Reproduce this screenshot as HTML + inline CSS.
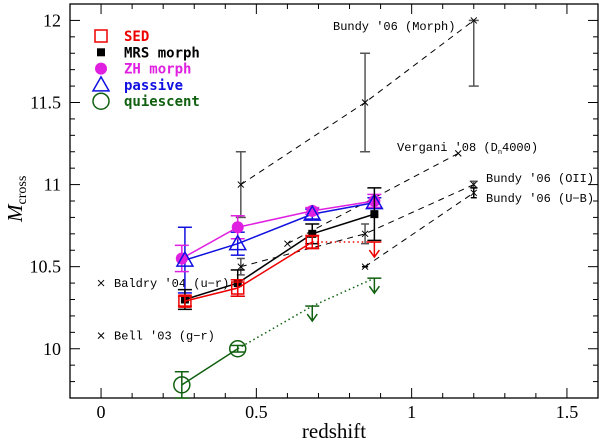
<!DOCTYPE html>
<html><head><meta charset="utf-8"><style>
body{margin:0;background:#fff}
svg{display:block}
text{font-family:"Liberation Serif",serif}
.lab{font-family:"Liberation Mono",monospace;font-size:12px}
.leg{font-family:"DejaVu Sans Mono","Liberation Mono",monospace;font-size:14px;font-weight:bold}
</style></head><body>
<svg id="c" width="600" height="441" xmlns="http://www.w3.org/2000/svg">
<g id="g"></g>
</svg>
<script>
const xTicks=[0,0.5,1,1.5];
const xTickLabels=["0","0.5","1","1.5"];
const yTicks=[10,10.5,11,11.5,12];
const yTickLabels=["10","10.5","11","11.5","12"];
const sedZ=[0.27,0.44,0.68];const sedM=[10.29,10.37,10.65];const sedE=[0.03,0.05,0.04];
const sedLimZ=[0.88];const sedLimM=[10.65];
const mrsZ=[0.27,0.44,0.68,0.88];const mrsM=[10.30,10.40,10.70,10.82];const mrsE=[0.06,0.08,0.06,0.16];
const zhZ=[0.26,0.44,0.68,0.88];const zhM=[10.55,10.74,10.84,10.90];const zhE=[0.08,0.07,0.02,0.04];
const pasZ=[0.27,0.44,0.68,0.88];const pasM=[10.54,10.64,10.82,10.89];const pasE=[0.2,0.07,0.03,0.03];
const quiZ=[0.26,0.44];const quiM=[9.78,10.00];const quiE=[0.08,0.02];
const quiLimZ=[0.68,0.88];const quiLimM=[10.26,10.43];
const morphZ=[0.45,0.85,1.2];const morphM=[11.0,11.5,12.0];const morphE=[0.2,0.3,0.4];
const oiiZ=[0.45,0.85,1.2];const oiiM=[10.5,10.7,11.0];const oiiE=[0.05,0.06,0.02];
const ubZ=[0.85,1.2];const ubM=[10.5,10.95];const ubE=[0,0.03];
const verZ=[0.6,1.15];const verM=[10.64,11.19];
const localZ=[0,0];const localM=[10.4,10.08];const localNames=["Baldry '04 (u\u2212r)","Bell '03 (g\u2212r)"];

const L=70,R=598,T=4,B=398,X0=-0.1,X1=1.6,Y0=9.7,Y1=12.1;
const sx=z=>L+(z-X0)/(X1-X0)*(R-L);
const sy=v=>B-(v-Y0)/(Y1-Y0)*(B-T);
const NS="http://www.w3.org/2000/svg";const g=document.getElementById('g');
function mk(t,a,txt){const e=document.createElementNS(NS,t);for(const k in a)e.setAttribute(k,a[k]);if(txt!==undefined)e.textContent=txt;g.appendChild(e);return e;}
let e=mk('rect',{x:L,y:T,width:R-L,height:B-T,fill:'none',stroke:'#000','stroke-width':1.3});

for(let i=-1;i<=16;i++){const z=i/10,x=sx(z),maj=i%5===0,l=maj?10:5;
 mk('line',{x1:x,x2:x,y1:B,y2:B-l,stroke:'#000'});mk('line',{x1:x,x2:x,y1:T,y2:T+l,stroke:'#000'});}
for(let i=97;i<=121;i++){const v=i/10,y=sy(v),maj=i%5===0,l=maj?10:5;
 mk('line',{x1:L,x2:L+l,y1:y,y2:y,stroke:'#000'});mk('line',{x1:R,x2:R-l,y1:y,y2:y,stroke:'#000'});}
xTicks.forEach((z,i)=>{e=mk('text',{x:sx(z),y:418,'text-anchor':'middle','font-size':18},xTickLabels[i]);
 });
yTicks.forEach((v,i)=>{e=mk('text',{x:61,y:sy(v)+6,'text-anchor':'end','font-size':18},yTickLabels[i]);
 });
e=mk('text',{x:334,y:438,'text-anchor':'middle','font-size':21},'redshift');

e=mk('text',{transform:'translate(22,222) rotate(-90)','font-size':21,'font-style':'italic'});

e.innerHTML='M<tspan font-size="14" font-style="normal" dy="4">cross</tspan>';

function line(Z,M,col,dash,w,name){const p=Z.map((z,i)=>sx(z)+','+sy(M[i])).join(' ');
 const el=mk('polyline',{points:p,fill:'none',stroke:col,'stroke-width':w,'stroke-dasharray':dash||'none'});
 }
function err(Z,M,E,col,cap,up){Z.forEach((z,i)=>{const x=sx(z);const eu=Array.isArray(up)?up[i]:E[i];
 mk('line',{x1:x,x2:x,y1:sy(M[i]+eu),y2:sy(M[i]-E[i]),stroke:col,'stroke-width':1.5});
 mk('line',{x1:x-cap,x2:x+cap,y1:sy(M[i]+eu),y2:sy(M[i]+eu),stroke:col,'stroke-width':1.5});
 mk('line',{x1:x-cap,x2:x+cap,y1:sy(M[i]-E[i]),y2:sy(M[i]-E[i]),stroke:col,'stroke-width':1.5});});}
function lim(Z,M,col){Z.forEach((z,i)=>{const x=sx(z),y=sy(M[i]);
 mk('line',{x1:x-7,x2:x+7,y1:y,y2:y,stroke:col,'stroke-width':1.5});
 mk('line',{x1:x,x2:x,y1:y,y2:y+14,stroke:col,'stroke-width':1.5});
 const el=mk('path',{d:`M${x-5},${y+8}L${x},${y+15}L${x+5},${y+8}`,fill:'none',stroke:col,'stroke-width':1.5});
 });}
function marker(type,x,y,col,name){let el;
 if(type==='sq')el=mk('rect',{x:x-6,y:y-6,width:12,height:12,fill:'none',stroke:col,'stroke-width':1.5});
 if(type==='fsq')el=mk('rect',{x:x-4,y:y-4,width:8,height:8,fill:col});
 if(type==='fc')el=mk('circle',{cx:x,cy:y,r:6,fill:col});
 if(type==='tri')el=mk('path',{d:`M${x},${y-8}L${x+8},${y+6}L${x-8},${y+6}Z`,fill:'none',stroke:col,'stroke-width':1.5});
 if(type==='c')el=mk('circle',{cx:x,cy:y,r:8,fill:'none',stroke:col,'stroke-width':1.5});
 if(type==='x')el=mk('path',{d:`M${x-3},${y-3}L${x+3},${y+3}M${x-3},${y+3}L${x+3},${y-3}`,stroke:'#000','stroke-width':1});
 }
line(morphZ,morphM,'#000','6,5',1,'bundy-morph-line');err(morphZ,morphM,morphE,'#555',5,[0.2,0.3,0]);
morphZ.forEach((z,i)=>marker('x',sx(z),sy(morphM[i]),'#000','bundy-morph-point'));
line(oiiZ,oiiM,'#000','6,5',1,'bundy-oii-line');err(oiiZ,oiiM,oiiE,'#555',4);
oiiZ.forEach((z,i)=>marker('x',sx(z),sy(oiiM[i]),'#000','bundy-oii-point'));
line(ubZ,ubM,'#000','6,5',1,'bundy-ub-line');err(ubZ,ubM,ubE,'#000',3);
ubZ.forEach((z,i)=>marker('x',sx(z),sy(ubM[i]),'#000','bundy-ub-point'));
line(verZ,verM,'#000','6,5',1,'vergani-line');
verZ.forEach((z,i)=>marker('x',sx(z),sy(verM[i]),'#000','vergani-point'));
localZ.forEach((z,i)=>{marker('x',sx(z),sy(localM[i]),'#000','local-point');
 const t=mk('text',{x:sx(z)+13,y:sy(localM[i])+4,class:'lab'},localNames[i]);});
[["Bundy '06 (Morph)",333,30],["Bundy '06 (OII)",486,182],["Bundy '06 (U\u2212B)",486,202]].forEach(a=>{
 const t=mk('text',{x:a[1],y:a[2],class:'lab'},a[0]);});
e=mk('text',{x:397,y:151,class:'lab'});e.innerHTML="Vergani '08 (D<tspan font-size='7' dy='3'>n</tspan><tspan dy='-3'>4000)</tspan>";

const RED='#e00',MAG='#e020e0',BLU='#1010e0',GRN='#106010';
line(quiZ,quiM,GRN,'',1.5,'quiescent-line');line([quiZ[1]].concat(quiLimZ),[quiM[1]].concat(quiLimM),GRN,'1.5,3',1.5,'quiescent-limit-line');
err(quiZ,quiM,quiE,GRN,7);lim(quiLimZ,quiLimM,GRN);quiZ.forEach((z,i)=>marker('c',sx(z),sy(quiM[i]),GRN,'quiescent-point'));
line(pasZ,pasM,BLU,'',1.5,'passive-line');err(pasZ,pasM,pasE,BLU,7);
line(zhZ,zhM,MAG,'',1.5,'zh-line');err(zhZ,zhM,zhE,MAG,7);
zhZ.forEach((z,i)=>marker('fc',sx(z),sy(zhM[i]),MAG,'zh-point'));
pasZ.forEach((z,i)=>marker('tri',sx(z),sy(pasM[i]),BLU,'passive-point'));
line(mrsZ,mrsM,'#000','',1.5,'mrs-line');err(mrsZ,mrsM,mrsE,'#000',7);
mrsZ.forEach((z,i)=>marker('fsq',sx(z),sy(mrsM[i]),'#000','mrs-point'));
line(sedZ,sedM,RED,'',1.5,'sed-line');line([sedZ[2]].concat(sedLimZ),[sedM[2]].concat(sedLimM),RED,'1.5,3',1.5,'sed-limit-line');
err(sedZ,sedM,sedE,RED,7);lim(sedLimZ,sedLimM,RED);sedZ.forEach((z,i)=>marker('sq',sx(z),sy(sedM[i]),RED,'sed-point'));
[['sq',RED,'SED'],['fsq','#000','MRS morph'],['fc',MAG,'ZH morph'],['tri',BLU,'passive'],['c',GRN,'quiescent']].forEach((a,i)=>{
 const y=36+i*16.3;marker(a[0],101,y,a[1],'legend-marker');
 const t=mk('text',{x:124,y:y+5,class:'leg',fill:a[1]},a[2]);});
</script>
</body></html>
